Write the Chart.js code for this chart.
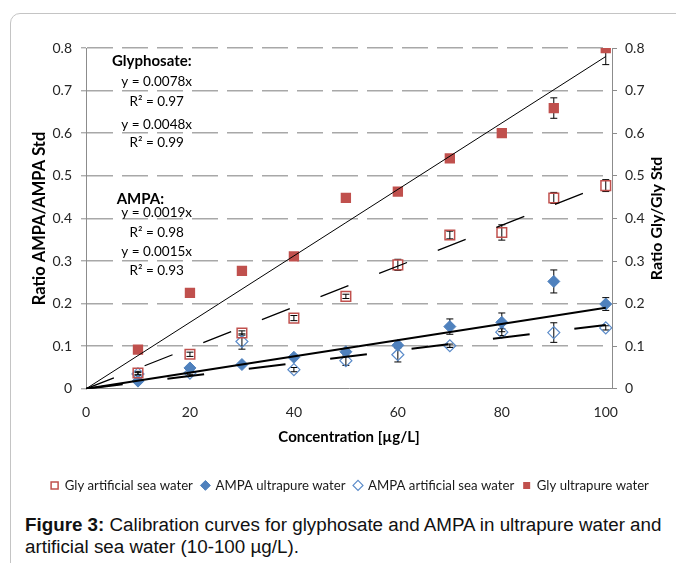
<!DOCTYPE html>
<html>
<head>
<meta charset="utf-8">
<script src="https://cdn.jsdelivr.net/npm/chart.js@4.4.1/dist/chart.umd.min.js"></script>
<style>
  html, body { margin: 0; padding: 0; background: #fff; }
  body { width: 676px; height: 563px; position: relative; overflow: hidden; }
  #frame { position: absolute; left: 10px; top: 13px; width: 720px; height: 620px; border: 1px solid #c4c4c4; border-radius: 10px; }
  #chart-box { position: absolute; left: 0; top: 0; width: 676px; height: 510px; }
  #caption { position: absolute; left: 25px; top: 514px; font-family: "Liberation Sans", Arial, sans-serif; font-size: 18.8px; line-height: 22px; color: #111; white-space: nowrap; }
</style>
</head>
<body>
<div id="frame"></div>
<div id="chart-box"><canvas id="calib-chart" width="676" height="510"></canvas></div>
<div id="caption"><b>Figure 3:</b> Calibration curves for glyphosate and AMPA in ultrapure water and<br>artificial sea water (10-100 µg/L).</div>
<script>
// concentrations (µg/L) and measured ratios
const concentrations = [10, 20, 30, 40, 50, 60, 70, 80, 90, 100];

const glyArtificial = [0.037, 0.081, 0.131, 0.166, 0.217, 0.291, 0.361, 0.367, 0.448, 0.477];
const glyArtificialErr = [0.004, 0.005, 0.005, 0.006, 0.005, 0.013, 0.009, 0.018, 0.013, 0.014];

const ampaUltrapure = [0.018, 0.049, 0.057, 0.074, 0.087, 0.102, 0.146, 0.156, 0.252, 0.199];
const ampaUltrapureErr = [0.003, 0.004, 0.003, 0.005, 0.005, 0.006, 0.018, 0.022, 0.027, 0.015];

const ampaArtificial = [0.035, 0.037, 0.111, 0.045, 0.066, 0.080, 0.101, 0.133, 0.132, 0.143];
const ampaArtificialErr = [0.003, 0.003, 0.018, 0.005, 0.011, 0.017, 0.004, 0.008, 0.023, 0.005];

const glyUltrapure = [0.092, 0.225, 0.277, 0.311, 0.448, 0.463, 0.541, 0.600, 0.659, 0.800];
const glyUltrapureErr = [0.003, 0.004, 0.004, 0.005, 0.004, 0.005, 0.006, 0.005, 0.024, 0.039];

// linear fits through origin: Gly ultrapure, Gly artificial, AMPA ultrapure, AMPA artificial
const trendSlopes = [0.0078, 0.0048, 0.0019, 0.0015];

const yTicks = [0, 0.1, 0.2, 0.3, 0.4, 0.5, 0.6, 0.7, 0.8];
const xTicks = [0, 20, 40, 60, 80, 100];

const glyphosateNotes = ['Glyphosate:', 'y = 0.0078x', 'R² = 0.97', 'y = 0.0048x', 'R² = 0.99'];
const ampaNotes = ['AMPA:', 'y = 0.0019x', 'R² = 0.98', 'y = 0.0015x', 'R² = 0.93'];

const RED = '#C0504D';
const BLUE = '#4F81BD';
const FONT = 'Lato, "Open Sans", sans-serif';

const toPoints = (vals) => vals.map((v, i) => ({ x: concentrations[i], y: v }));
const trendPoints = (slope) => [{ x: 0, y: 0 }, { x: 100, y: slope * 100 }];

function trendDataset(slope, width, dash) {
  return {
    label: 'trend',
    data: trendPoints(slope),
    showLine: true,
    borderColor: '#000',
    borderWidth: width,
    borderDash: dash,
    pointRadius: 0,
    order: 0
  };
}

function markerDataset(label, vals, errs, style, fill, stroke, radius, bw) {
  return {
    label: label,
    data: toPoints(vals),
    errors: errs,
    pointStyle: style,
    backgroundColor: fill,
    borderColor: stroke,
    pointBackgroundColor: fill,
    pointBorderColor: stroke,
    pointBorderWidth: bw,
    borderWidth: bw,
    pointRadius: radius,
    order: 1
  };
}

// error bars sit under the markers, clipped to the plot area
const errorBars = {
  id: 'errorBars',
  beforeDatasetsDraw(chart) {
    const { ctx, scales, chartArea } = chart;
    ctx.save();
    ctx.beginPath();
    ctx.rect(chartArea.left - 10, chartArea.top, chartArea.width + 20, chartArea.height);
    ctx.clip();
    ctx.strokeStyle = '#000';
    ctx.lineWidth = 1;
    chart.data.datasets.forEach(ds => {
      if (!ds.errors) return;
      ds.data.forEach((p, i) => {
        const e = ds.errors[i];
        const x = scales.x.getPixelForValue(p.x);
        const y1 = scales.y.getPixelForValue(p.y - e);
        const y2 = scales.y.getPixelForValue(p.y + e);
        ctx.beginPath();
        ctx.moveTo(x, y1); ctx.lineTo(x, y2);
        ctx.moveTo(x - 3.5, y1); ctx.lineTo(x + 3.5, y1);
        ctx.moveTo(x - 3.5, y2); ctx.lineTo(x + 3.5, y2);
        ctx.stroke();
      });
    });
    ctx.restore();
  }
};

// equation labels and right axis title (reads bottom to top like the left one)
const notes = {
  id: 'notes',
  afterDraw(chart) {
    const { ctx, scales, chartArea } = chart;
    const px = v => scales.x.getPixelForValue(v);
    const py = v => scales.y.getPixelForValue(v);
    ctx.save();
    ctx.fillStyle = '#000';
    ctx.textBaseline = 'middle';

    const block = (lines, titleX, titleY, eqX, eqYs) => {
      ctx.font = 'bold 15px ' + FONT;
      ctx.textAlign = 'left';
      ctx.fillText(lines[0], px(titleX), py(titleY));
      ctx.font = '13.5px ' + FONT;
      ctx.textAlign = 'center';
      lines.slice(1).forEach((t, i) => ctx.fillText(t, px(eqX), py(eqYs[i])));
    };
    block(glyphosateNotes, 5.0, 0.768, 13.6, [0.721, 0.674, 0.620, 0.577]);
    block(ampaNotes, 5.9, 0.444, 13.6, [0.413, 0.366, 0.322, 0.277]);

    ctx.font = 'bold 16px ' + FONT;
    ctx.textAlign = 'center';
    ctx.translate(657, (chartArea.top + chartArea.bottom) / 2);
    ctx.rotate(-Math.PI / 2);
    ctx.fillText('Ratio Gly/Gly Std', 0, 0);
    ctx.restore();
  }
};

const tickFont = { family: FONT, size: 14 };

new Chart(document.getElementById('calib-chart'), {
  type: 'scatter',
  data: {
    datasets: [
      markerDataset('Gly artificial sea water', glyArtificial, glyArtificialErr, 'rect', 'rgba(255,255,255,0)', RED, 6.8, 1.5),
      markerDataset('AMPA ultrapure water', ampaUltrapure, ampaUltrapureErr, 'rectRot', BLUE, BLUE, 6, 1),
      markerDataset('AMPA artificial sea water', ampaArtificial, ampaArtificialErr, 'rectRot', 'rgba(255,255,255,0)', '#5B8BC9', 6, 1.2),
      markerDataset('Gly ultrapure water', glyUltrapure, glyUltrapureErr, 'rect', RED, RED, 7.3, 0),
      trendDataset(trendSlopes[0], 1, []),
      trendDataset(trendSlopes[1], 1.3, [30, 33]),
      trendDataset(trendSlopes[2], 2, []),
      trendDataset(trendSlopes[3], 2, [37, 45])
    ]
  },
  options: {
    responsive: false,
    animation: false,
    layout: { padding: { top: 48, left: 24, right: 0, bottom: 8 } },
    scales: {
      x: {
        type: 'linear',
        min: 0,
        max: 101.2,
        afterBuildTicks: s => { s.ticks = xTicks.map(v => ({ value: v })); },
        afterFit: s => { s.height = 81; },
        ticks: { stepSize: 20, includeBounds: false, padding: 15, color: '#262626', font: tickFont, maxRotation: 0 },
        grid: { display: false, drawTicks: false },
        border: { display: true, color: '#8c8c8c', width: 1 },
        title: {
          display: true,
          text: 'Concentration [µg/L]',
          color: '#000',
          font: { family: FONT, size: 15, weight: 'bold' },
          padding: { top: 4, bottom: 24 }
        }
      },
      y: {
        position: 'left',
        min: 0,
        max: 0.8,
        afterBuildTicks: s => { s.ticks = yTicks.map(v => ({ value: v })); },
        afterFit: s => { s.width = 62; },
        ticks: { padding: 9, color: '#262626', font: tickFont },
        grid: {
          color: c => (c.tick && c.tick.value === 0) ? 'rgba(0,0,0,0)' : '#a8a8a8',
          lineWidth: 1.6,
          tickLength: 5,
          tickColor: '#8c8c8c',
          tickWidth: 1
        },
        border: { display: true, color: '#8c8c8c', width: 1, dash: [26, 9] },
        title: {
          display: true,
          text: 'Ratio AMPA/AMPA Std',
          color: '#000',
          font: { family: FONT, size: 16.5, weight: 'bold' },
          padding: { top: 6, bottom: 0 }
        }
      },
      y2: {
        type: 'linear',
        position: 'right',
        min: 0,
        max: 0.8,
        afterBuildTicks: s => { s.ticks = yTicks.map(v => ({ value: v })); },
        afterFit: s => { s.width = 64; },
        ticks: { padding: 8, color: '#262626', font: tickFont },
        grid: { drawOnChartArea: false, drawTicks: true, tickLength: 5, tickColor: '#8c8c8c', color: '#8c8c8c' },
        border: { display: true, color: '#8c8c8c', width: 1 }
      }
    },
    plugins: {
      legend: {
        position: 'bottom',
        labels: {
          usePointStyle: true,
          boxWidth: 7,
          boxHeight: 7,
          padding: 9,
          color: '#1a1a1a',
          font: { family: FONT, size: 13.2 },
          filter: item => item.text !== 'trend'
        }
      },
      tooltip: { enabled: false }
    }
  },
  plugins: [errorBars, notes]
});
</script>
</body>
</html>
